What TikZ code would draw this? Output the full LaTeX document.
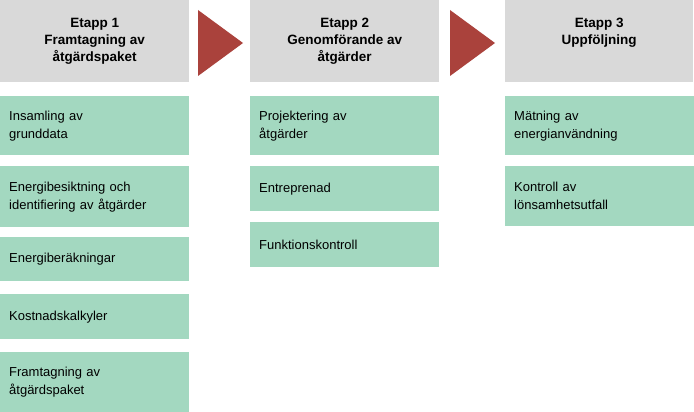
\documentclass[tikz,border=0pt]{standalone}
\usepackage{fontspec}
\setmainfont{Liberation Sans}
\definecolor{headgray}{RGB}{217,217,217}
\definecolor{stepgreen}{RGB}{163,216,192}
\definecolor{arrowred}{RGB}{170,66,60}
\tikzset{
  head/.style = {fill=headgray, anchor=north west, minimum width=189pt,
    minimum height=82pt, align=center, font=\bfseries\fontsize{13.5}{17}\selectfont,
    inner sep=0pt},
  task/.style = {fill=stepgreen, anchor=north west, minimum width=189pt,
    text width=171pt, align=left, font=\fontsize{13}{18}\selectfont,
    inner sep=0pt, inner xsep=9pt},
  chevron/.style = {fill=arrowred}
}
\begin{document}
\begin{tikzpicture}[x=1pt, y=-1pt]
  \useasboundingbox (0,0) rectangle (694,412);
  % headers
  \node[head] (h1) at (0,0) {Etapp 1\\Framtagning av\\åtgärdspaket};
  \node[head] (h2) at (250,0) {Etapp 2\\Genomförande av\\åtgärder};
  \node[head, minimum width=188pt] (h3) at (505,0) {Etapp 3\\Uppföljning\\[3pt]};
  % arrows
  \fill[chevron] (198,10) -- (243,43) -- (198,76) -- cycle;
  \fill[chevron] (450,10) -- (495,43) -- (450,76) -- cycle;
  % column 1
  \node[task, minimum height=59pt] (a1) at (0,96) {Insamling av\\grunddata};
  \node[task, minimum height=61pt] (a2) at (0,166) {Energibesiktning och\\identifiering av åtgärder};
  \node[task, minimum height=44pt] (a3) at (0,237) {Energiberäkningar};
  \node[task, minimum height=45pt] (a4) at (0,294) {Kostnadskalkyler};
  \node[task, minimum height=60pt] (a5) at (0,352) {Framtagning av\\åtgärdspaket};
  % column 2
  \node[task, minimum width=188pt] (b1) at (250,96) [minimum height=59pt] {Projektering av\\åtgärder};
  \node[task, minimum width=188pt] (b2) at (250,166) [minimum height=45pt] {Entreprenad};
  \node[task, minimum width=188pt] (b3) at (250,222) [minimum height=45pt] {Funktionskontroll};
  % column 3
  \node[task, minimum width=188pt] (c1) at (505,96) [minimum height=59pt] {Mätning av\\energianvändning};
  \node[task, minimum width=188pt] (c2) at (505,166) [minimum height=60pt] {Kontroll av\\lönsamhetsutfall};
\end{tikzpicture}
\end{document}
